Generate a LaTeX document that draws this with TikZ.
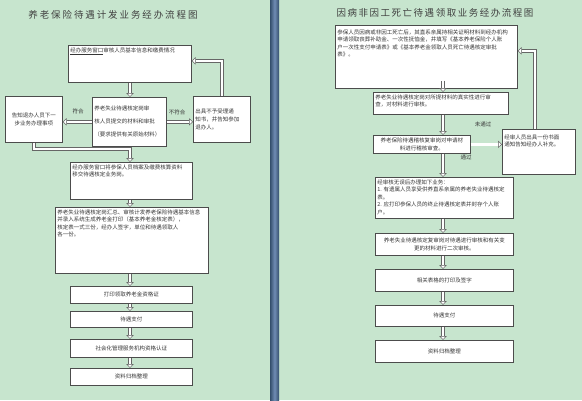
\documentclass[tikz,border=0pt]{standalone}
\usepackage{fontspec}
\setmainfont{Noto Sans CJK SC}
\XeTeXlinebreaklocale "zh"
\XeTeXlinebreakskip=0pt plus 1pt
\usetikzlibrary{arrows.meta}
\definecolor{bg}{RGB}{199,229,206}
\definecolor{bardark}{RGB}{52,78,108}
\definecolor{barmid}{RGB}{112,140,180}
\definecolor{ink}{RGB}{55,55,55}
\newcommand\TopBox[3]{\parbox[t][#2pt][t]{#1pt}{#3}}
\newcommand\MidBox[3]{\parbox[t][#2pt][c]{#1pt}{#3}}
\newcommand\CtrBox[3]{\parbox[t][#2pt][c]{#1pt}{\centering #3\par}}
\begin{document}
\begin{tikzpicture}[x=1pt,y=-1pt,
  every node/.style={font=\fontsize{5.5}{7.6}\selectfont, text=ink},
  box/.style={draw=black!70, fill=white, line width=0.7pt, inner sep=2pt, anchor=north west},
  hollow/.style={draw=black!60, double=white, double distance=2.4pt, line width=0.5pt,
     -{Triangle[fill=white, length=4pt, width=7.5pt]}},
  ttl/.style={font=\fontsize{9.5}{11}\selectfont\addfontfeature{LetterSpace=20}, text=black!75},
  lbl/.style={font=\fontsize{5.5}{7}\selectfont}]
\useasboundingbox (0,0) rectangle (582,400);
\fill[bg] (0,0) rectangle (582,400);
\shade[left color=bardark, right color=bardark, middle color=barmid] (270,0) rectangle (279,400);
\coordinate (colL) at (130,0);
\coordinate (colR) at (443,0);
\coordinate (vx) at (535,0);
\coordinate (j1) at (130,149);

% ---------- left panel ----------
\node[ttl] (t1) at (113,15) {养老保险待遇计发业务经办流程图};
\node[box] (A) at (68,45) {\TopBox{119}{33}{\underline{经办服务窗口}审核人员基本信息和缴费情况}};
\node[box] (B) at (92,97) {\parbox[t][45pt][t]{70pt}{\fontsize{5.5}{13}\selectfont\vspace*{6pt}养老失业待遇核定岗审\\核人员提交的材料和审批\\（要求提供有关原始材料）}};
\node[box] (L) at (5,96) {\CtrBox{53}{42}{告知退办人员下一\\步业务办理事项}};
\node[box] (R) at (193,96) {\MidBox{53}{42}{出具不予受理通\\知书，并告知参加\\退办人。}};
\node[box] (C) at (70,162) {\TopBox{118}{33}{经办服务窗口将参保人员档案及缴费核算资料\\移交待遇核定业务岗。}};
\node[box] (D) at (55,207) {\TopBox{149}{62}{养老失业待遇核定岗汇总、审核计发养老保险待遇基本信息\\并录入系统生成养老金打印（基本养老金核定表），\\核定表一式三份，经办人签字，单位和待遇领取人\\各一份。}};
\node[box] (E) at (70,286) {\CtrBox{118}{13}{打印领取养老金资格证}};
\node[box] (F) at (70,311) {\CtrBox{118}{12}{待遇支付}};
\node[box] (G) at (70,339) {\CtrBox{118}{14}{社会化管理服务机构资格认证}};
\node[box] (H) at (70,368) {\CtrBox{118}{13}{资料归档整理}};
\node[lbl] (l1) at (78,111) {符合};
\node[lbl] (l2) at (177,112) {不符合};

\draw[hollow] (A.south -| colL) -- (B.north -| colL);
\draw[hollow] (B.west) -- (B.west -| L.east);
\draw[hollow] (B.east) -- (B.east -| R.west);
\draw[hollow] (R.north) |- ([yshift=3pt]A.east);
\draw[hollow] (L.south) |- (j1) -- (C.north -| colL);
\draw[hollow] (C.south -| colL) -- (D.north -| colL);
\draw[hollow] (D.south -| colL) -- (E.north -| colL);
\draw[hollow] (E.south -| colL) -- (F.north -| colL);
\draw[hollow] (F.south -| colL) -- (G.north -| colL);
\draw[hollow] (G.south -| colL) -- (H.north -| colL);

% ---------- right panel ----------
\node[ttl, font=\fontsize{9.5}{11}\selectfont\addfontfeature{LetterSpace=16}] (t2) at (435,13) {因病非因工死亡待遇领取业务经办流程图};
\node[box] (A2) at (335,25) {\TopBox{178}{59}{\vspace*{2pt}参保人员因病或非因工死亡后，其直系亲属持相关证明材料到经办机构\\申请领取丧葬补助金、一次性抚恤金，并填写《基本养老保险个人账\\户一次性支付申请表》或《基本养老金领取人员死亡待遇核定审批\\表》。}};
\node[box] (B2) at (373,92) {\TopBox{131}{18}{养老失业待遇核定岗对所提材料的真实性进行审\\查，对材料进行审核。}};
\node[box] (C2) at (373,135) {\CtrBox{93}{14}{养老保险待遇稽核复审岗对申请材\\料进行稽核审查。}};
\node[box] (R2) at (502,129) {\TopBox{69}{41}{\vspace*{3pt}经审人员出具一份书面\\通知告知经办人补充。}};
\node[box] (D2) at (375,177) {\TopBox{134}{37}{经审核无误后办理如下业务：\\1. 有遗属人员享受供养直系亲属的养老失业待遇核定\\表。\\2. 应打印参保人员的终止待遇核定表并封存个人账\\户。}};
\node[box] (E2) at (375,233) {\CtrBox{134}{18}{养老失业待遇核定复审岗对待遇进行审核和有关变\\更的材料进行二次审核。}};
\node[box] (F2) at (375,269) {\CtrBox{134}{18}{相关表格的打印及签字}};
\node[box] (G2) at (375,305) {\CtrBox{134}{17}{待遇支付}};
\node[box] (H2) at (375,340) {\CtrBox{134}{18}{资料归档整理}};
\node[lbl] (l3) at (483,124) {未通过};
\node[lbl] (l4) at (466,157) {通过};

\draw[hollow] ([yshift=8pt]A2.south -| colR) -- (B2.north -| colR);
\draw[hollow] (B2.south -| colR) -- (C2.north -| colR);
\draw[hollow] (C2.east) -- (C2.east -| R2.west);
\draw[hollow] (R2.north -| vx) |- ([yshift=6pt]A2.east);
\draw[hollow] (C2.south -| colR) -- (D2.north -| colR);
\draw[hollow] (D2.south -| colR) -- (E2.north -| colR);
\draw[hollow] (E2.south -| colR) -- (F2.north -| colR);
\draw[hollow] (F2.south -| colR) -- (G2.north -| colR);
\draw[hollow] (G2.south -| colR) -- (H2.north -| colR);
\end{tikzpicture}
\end{document}
